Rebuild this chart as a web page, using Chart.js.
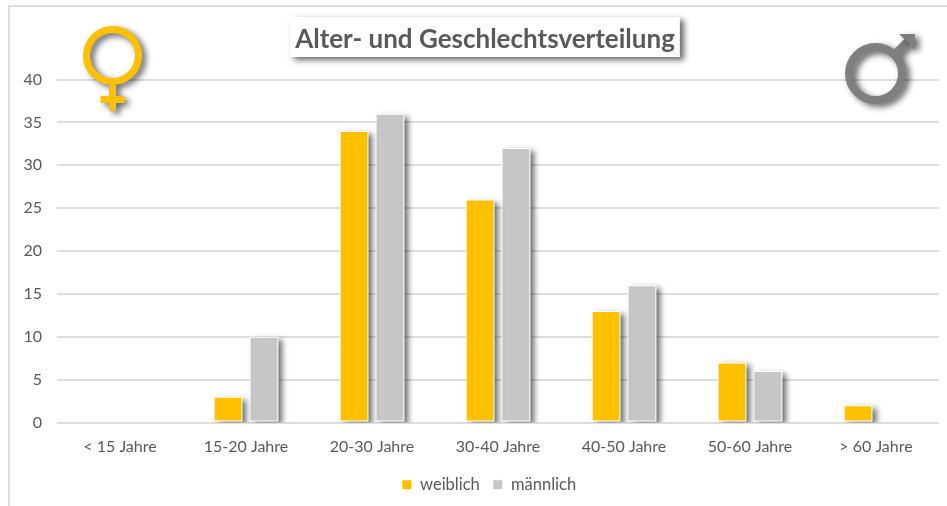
<!DOCTYPE html>
<html>
<head>
<meta charset="utf-8">
<title>Alter- und Geschlechtsverteilung</title>
<script src="https://cdn.jsdelivr.net/npm/chart.js@4/dist/chart.umd.min.js"></script>
<style>
  html, body { margin: 0; padding: 0; background: #fff; }
  canvas { display: block; }
</style>
</head>
<body>
<canvas id="barChart" width="947" height="506"></canvas>
<script>
const categories = ['< 15 Jahre', '15-20 Jahre', '20-30 Jahre', '30-40 Jahre', '40-50 Jahre', '50-60 Jahre', '> 60 Jahre'];
const weiblich = [0, 3, 34, 26, 13, 7, 2];
const maennlich = [0, 10, 36, 32, 16, 6, 0];

const textColor = '#595959';
const gridColor = '#dedede';
const gold = '#ffc000';
const grey = '#c6c6c6';

function softShadow(ctx) {
    ctx.shadowColor = 'rgba(0, 0, 0, 0.6)';
    ctx.shadowBlur = 6;
    ctx.shadowOffsetX = 4;
    ctx.shadowOffsetY = 3;
}

// title and legend sit a little right of the centre of the layout
const nudge = {
    id: 'nudge',
    afterLayout(chart) {
        chart.titleBlock.left += 13;
        chart.legend.left += 21;
    }
};

// frame of the chart and the white plate behind the title
const backdrop = {
    id: 'backdrop',
    beforeDraw(chart) {
        const ctx = chart.ctx;
        ctx.save();
        ctx.fillStyle = gridColor;
        ctx.fillRect(8, 5, 939, 2);
        ctx.fillRect(8, 5, 2, 501);

        const block = chart.titleBlock;
        const cx = (block.left + block.right) / 2;
        ctx.font = 'bold 26px Lato';
        const w = ctx.measureText(chart.options.plugins.title.text).width + 10;
        softShadow(ctx);
        ctx.fillStyle = '#fff';
        ctx.fillRect(cx - w / 2, 17, w, 40);
        ctx.restore();
    }
};

// bars cast their shadow outside the white outline, so it goes underneath them
const barShadow = {
    id: 'barShadow',
    beforeDatasetDraw(chart, args) {
        const ctx = chart.ctx;
        const area = chart.chartArea;
        ctx.save();
        ctx.beginPath();
        ctx.rect(area.left, 0, area.right - area.left, area.bottom);
        ctx.clip();
        softShadow(ctx);
        ctx.fillStyle = '#fff';
        args.meta.data.forEach(bar => {
            const p = bar.getProps(['x', 'y', 'base', 'width']);
            if (p.base - p.y < 1) return;
            ctx.fillRect(p.x - p.width / 2, p.y, p.width, p.base - p.y);
        });
        ctx.restore();
    }
};

// venus and mars signs in the upper corners
const genderSigns = {
    id: 'genderSigns',
    afterDraw(chart) {
        const ctx = chart.ctx;
        ctx.save();
        softShadow(ctx);
        ctx.lineCap = 'butt';

        ctx.strokeStyle = gold;
        ctx.lineWidth = 7;
        ctx.beginPath();
        ctx.arc(112.5, 55.5, 26, 0, Math.PI * 2);
        ctx.moveTo(112.5, 85);
        ctx.lineTo(112.5, 111);
        ctx.moveTo(100.5, 99.5);
        ctx.lineTo(124.5, 99.5);
        ctx.stroke();

        ctx.strokeStyle = '#7f7f7f';
        ctx.fillStyle = '#7f7f7f';
        ctx.lineWidth = 8;
        ctx.beginPath();
        ctx.arc(875.5, 73.5, 26.5, 0, Math.PI * 2);
        ctx.moveTo(894, 55);
        ctx.lineTo(908, 41);
        ctx.stroke();
        ctx.beginPath();
        ctx.moveTo(899, 34);
        ctx.lineTo(915, 34);
        ctx.lineTo(915, 50);
        ctx.closePath();
        ctx.fill();
        ctx.restore();
    }
};

new Chart(document.getElementById('barChart').getContext('2d'), {
    type: 'bar',
    data: {
        labels: categories,
        datasets: [
            { label: 'weiblich', data: weiblich, backgroundColor: gold, borderColor: '#fff', borderWidth: 1, borderSkipped: false },
            { label: 'männlich', data: maennlich, backgroundColor: grey, borderColor: '#fff', borderWidth: 1, borderSkipped: false }
        ]
    },
    options: {
        responsive: false,
        animation: false,
        layout: { padding: { left: 18, right: 8, top: 0, bottom: 3 } },
        datasets: { bar: { categoryPercentage: 0.571, barPercentage: 0.8 } },
        scales: {
            x: {
                grid: { display: false },
                border: { display: false },
                ticks: { color: textColor, font: { family: 'Lato', size: 16 }, padding: 7, maxRotation: 0 },
                afterFit(scale) { scale.height = 41; }
            },
            y: {
                min: 0,
                max: 40,
                grid: { color: gridColor, lineWidth: 2, drawTicks: false },
                border: { display: false },
                ticks: { stepSize: 5, color: textColor, font: { family: 'Lato', size: 16 }, padding: 15 },
                afterFit(scale) { scale.width = 39; }
            }
        },
        plugins: {
            title: {
                display: true,
                text: 'Alter- und Geschlechtsverteilung',
                color: textColor,
                font: { family: 'Lato', size: 26, weight: 'bold', lineHeight: 1.2 },
                padding: { top: 24, bottom: 24.3 }
            },
            legend: {
                position: 'bottom',
                labels: { color: textColor, font: { family: 'Lato', size: 16.5 }, boxWidth: 10, boxHeight: 10, padding: 13 }
            },
            tooltip: { enabled: false }
        }
    },
    plugins: [nudge, backdrop, barShadow, genderSigns]
});
</script>
</body>
</html>
